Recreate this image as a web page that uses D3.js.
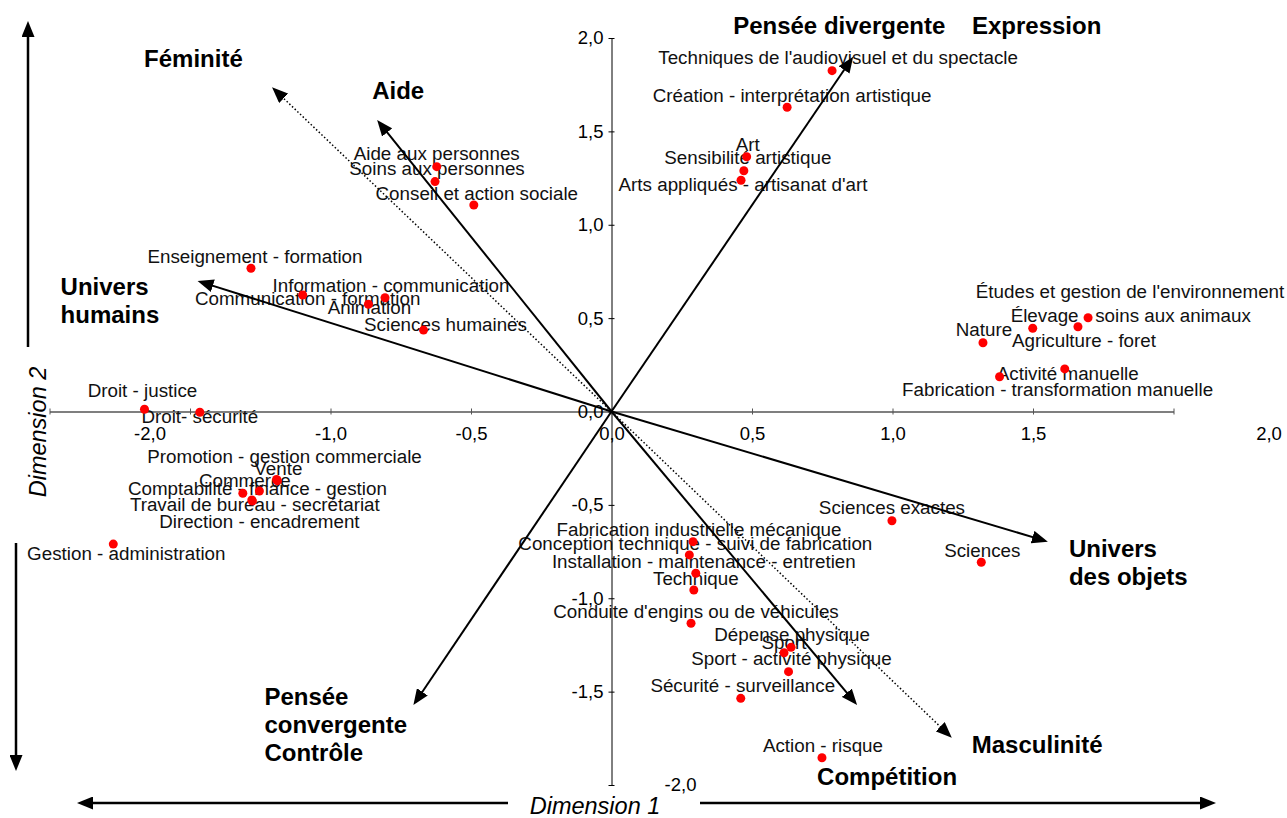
<!DOCTYPE html>
<html lang="fr">
<head>
<meta charset="utf-8">
<script src="https://cdn.jsdelivr.net/npm/d3@7"></script>
<style>
  body { margin: 0; background: #fff; }
  svg { display: block; font-family: "Liberation Sans", Arial, sans-serif; }
</style>
</head>
<body>
<div id="chart"></div>
<script>
/* Biplot : métiers sur les dimensions 1 et 2 */

const metiers = [
    "Techniques de l'audiovisuel et du spectacle", "Création - interprétation artistique", "Art",
    "Sensibilité artistique", "Arts appliqués - artisanat d'art", "Aide aux personnes",
    "Soins aux personnes", "Conseil et action sociale", "Enseignement - formation",
    "Information - communication", "Communication - formation", "Animation",
    "Sciences humaines", "Études et gestion de l'environnement", "Élevage - soins aux animaux",
    "Agriculture - foret", "Nature", "Activité manuelle",
    "Fabrication - transformation manuelle", "Droit - justice", "Droit- sécurité",
    "Gestion - administration", "Vente", "Promotion - gestion commerciale",
    "Commerce", "Comptabilité - finance - gestion", "Travail de bureau - secrétariat",
    "Direction - encadrement", "Sciences exactes", "Sciences",
    "Fabrication industrielle mécanique", "Conception technique - suivi de fabrication", "Installation - maintenance - entretien",
    "Technique", "Conduite d'engins ou de véhicules", "Dépense physique",
    "Sport", "Sport - activité physique", "Sécurité - surveillance",
    "Action - risque"
];

const dim1 = [
    0.785, 0.625, 0.481, 0.471, 0.461, -0.622, -0.628, -0.490, -1.283, -0.806,
    -1.099, -0.865, -0.669, 1.696, 1.499, 1.660, 1.322, 1.613, 1.381, -1.662,
    -1.465, -1.773, -1.189, -1.192, -1.312, -1.253, -1.280, -1.278, 0.998, 1.316,
    0.290, 0.277, 0.300, 0.293, 0.283, 0.639, 0.614, 0.630, 0.460, 0.749
];

const dim2 = [
    1.825, 1.629, 1.364, 1.289, 1.238, 1.311, 1.231, 1.106, 0.767, 0.609,
    0.624, 0.574, 0.436, 0.502, 0.446, 0.454, 0.368, 0.228, 0.186, 0.012,
    -0.004, -0.710, -0.371, -0.364, -0.438, -0.426, -0.474, -0.479, -0.585, -0.807,
    -0.697, -0.768, -0.866, -0.956, -1.134, -1.263, -1.292, -1.393, -1.536, -1.854
];

// décalage des étiquettes par rapport au point (px)
const labelDx = [6, 5, 1, 4, 2, 0, 2, 3, 4, 6, 5, 1, 22, 42, 98, 6, 1, 3, 58, -2,
                 0, 13, 1, 8, 2, -2, 3, 7, 0, 1, 6, 6, 8, 2, 5, 1, 0, 3, 2, 1];
const labelDy = [-13, -12, -12, -13, 4, -13, -13, -12, -12, -12, 3, 3, -6, -26, -13, 14, -13, 4, 13, -19,
                 4, 9, -12, -23, -13, -3, 4, 20, -13, -12, -12, -12, -12, -12, -12, -13, -10, -13, -13, -12];

// vecteurs des dimensions interprétées
const axisNames = [
    ["Féminité"], ["Masculinité"], ["Aide"], ["Compétition"],
    ["Univers", "humains"], ["Univers", "des objets"],
    ["Pensée divergente\u00a0\u00a0\u00a0\u00a0Expression"], ["Pensée", "convergente", "Contrôle"]
];
const axisX = [-1.208, 1.211, -0.834, 0.874, -1.473, 1.553, 0.860, -0.705];
const axisY = [1.736, -1.747, 1.561, -1.572, 0.699, -0.697, 1.900, -1.572];
const axisDotted = [true, true, false, false, false, false, false, false];
const axisLabelDx = [-128, 20, -5, -40, -137, 21, -120, -149];
const axisLabelDy = [-29, 7, -29, 72, 6, 7, -31, -8];

const tickValues = [-2, -1.5, -1, -0.5, 0, 0.5, 1, 1.5, 2];

const width = 1287,
      height = 818;

let svg = d3.select("#chart")
            .append("svg")
            .attr("width", width)
            .attr("height", height);

let x = d3.scaleLinear()
          .domain([-2, 2])
          .range([49.5, 1173.5]);

let y = d3.scaleLinear()
          .domain([-2, 2])
          .range([785, 38]);

const fr = d3.formatLocale({decimal: ",", thousands: ".", grouping: [3], currency: ["", " €"], minus: "-"});
const fmt = fr.format(".1f");

/* Axes */
svg.append("g")
   .attr("transform", `translate(0, ${y(0)})`)
   .call(d3.axisBottom(x).tickValues(tickValues).tickFormat(fmt).tickSize(3).tickSizeOuter(0))
   .attr("font-size", 18.5)
   .attr("font-family", null)
   .call(g => g.select(".domain").attr("stroke", "#555").attr("stroke-width", 1.3))
   .call(g => g.selectAll(".tick line").attr("y1", -3).attr("stroke", "#555"))
   .call(g => g.selectAll(".tick text").attr("y", 22).attr("dy", "0.35em").attr("fill", "#000"))
   .call(g => g.selectAll(".tick text").filter(d => d === -2).attr("dx", 100))
   .call(g => g.selectAll(".tick text").filter(d => d === 2).attr("dx", 95))
   .call(g => g.selectAll(".tick text").filter(d => d === -1.5).remove());

svg.append("g")
   .attr("transform", `translate(${x(0)}, 0)`)
   .call(d3.axisLeft(y).tickValues(tickValues).tickFormat(fmt).tickSize(3).tickSizeOuter(0))
   .attr("font-size", 18.5)
   .attr("font-family", null)
   .call(g => g.selectAll(".tick line").attr("x1", 3))
   .call(g => g.selectAll(".tick text").attr("x", -8).attr("fill", "#000"))
   .call(g => g.selectAll(".tick text").filter(d => d === -2)
               .attr("x", 69).attr("text-anchor", "middle"));

/* Étiquettes des métiers */
let pts = metiers.map((m, i) => ({name: m, d1: dim1[i], d2: dim2[i], dx: labelDx[i], dy: labelDy[i]}));

svg.append("g")
   .selectAll("text")
   .data(pts)
   .join("text")
   .attr("x", d => x(d.d1) + d.dx)
   .attr("y", d => y(d.d2) + d.dy)
   .attr("dy", "0.35em")
   .attr("text-anchor", "middle")
   .attr("font-size", 18.8)
   .attr("fill", "#111")
   .text(d => d.name);

/* Flèches */
let defs = svg.append("defs");
defs.append("marker")
    .attr("id", "head")
    .attr("markerUnits", "userSpaceOnUse")
    .attr("viewBox", "0 0 16 13")
    .attr("markerWidth", 16)
    .attr("markerHeight", 13)
    .attr("refX", 8)
    .attr("refY", 6.5)
    .attr("orient", "auto")
    .append("path")
    .attr("d", "M0,0L16,6.5L0,13Z")
    .attr("fill", "#000");

function shortened(x0, y0, x1, y1, k) {
    const len = Math.hypot(x1 - x0, y1 - y0);
    return [x1 - (x1 - x0) / len * k, y1 - (y1 - y0) / len * k];
}

let vecs = axisNames.map((n, i) => ({lines: n, vx: axisX[i], vy: axisY[i], dotted: axisDotted[i],
                                     ldx: axisLabelDx[i], ldy: axisLabelDy[i]}));

svg.append("g")
   .selectAll("line")
   .data(vecs)
   .join("line")
   .attr("x1", x(0))
   .attr("y1", y(0))
   .attr("x2", d => shortened(x(0), y(0), x(d.vx), y(d.vy), 8)[0])
   .attr("y2", d => shortened(x(0), y(0), x(d.vx), y(d.vy), 8)[1])
   .attr("stroke", "#000")
   .attr("stroke-width", d => d.dotted ? 1.5 : 2)
   .attr("stroke-dasharray", d => d.dotted ? "1.5,2.2" : null)
   .attr("marker-end", "url(#head)");

let vlab = svg.append("g")
   .selectAll("text")
   .data(vecs)
   .join("text")
   .attr("font-size", 24)
   .attr("font-weight", "bold")
   .attr("fill", "#000");

vlab.selectAll("tspan")
    .data(d => d.lines.map((t, j) => ({t, j, d})))
    .join("tspan")
    .attr("x", e => x(e.d.vx) + e.d.ldx)
    .attr("y", e => y(e.d.vy) + e.d.ldy + e.j * 28)
    .attr("dy", "0.35em")
    .text(e => e.t);

/* Points */
svg.append("g")
   .selectAll("circle")
   .data(pts)
   .join("circle")
   .attr("cx", d => x(d.d1))
   .attr("cy", d => y(d.d2))
   .attr("r", 4.5)
   .attr("fill", "#ff0000");

/* Flèches des dimensions */
const dimArrows = [[28, 347, 28, 21], [16, 543, 16, 771], [508, 803, 77, 803], [700, 803, 1216, 803]];
svg.append("g")
   .selectAll("line")
   .data(dimArrows)
   .join("line")
   .attr("x1", d => d[0])
   .attr("y1", d => d[1])
   .attr("x2", d => shortened(d[0], d[1], d[2], d[3], 8)[0])
   .attr("y2", d => shortened(d[0], d[1], d[2], d[3], 8)[1])
   .attr("stroke", "#000")
   .attr("stroke-width", 2.5)
   .attr("marker-end", "url(#head)");

svg.append("text")
   .attr("x", 595)
   .attr("y", 806)
   .attr("dy", "0.35em")
   .attr("text-anchor", "middle")
   .attr("font-size", 23.5)
   .attr("font-style", "italic")
   .text("Dimension 1");

svg.append("text")
   .attr("transform", "translate(38, 432) rotate(-90)")
   .attr("dy", "0.35em")
   .attr("text-anchor", "middle")
   .attr("font-size", 23.5)
   .attr("font-style", "italic")
   .text("Dimension 2");
</script>
</body>
</html>
